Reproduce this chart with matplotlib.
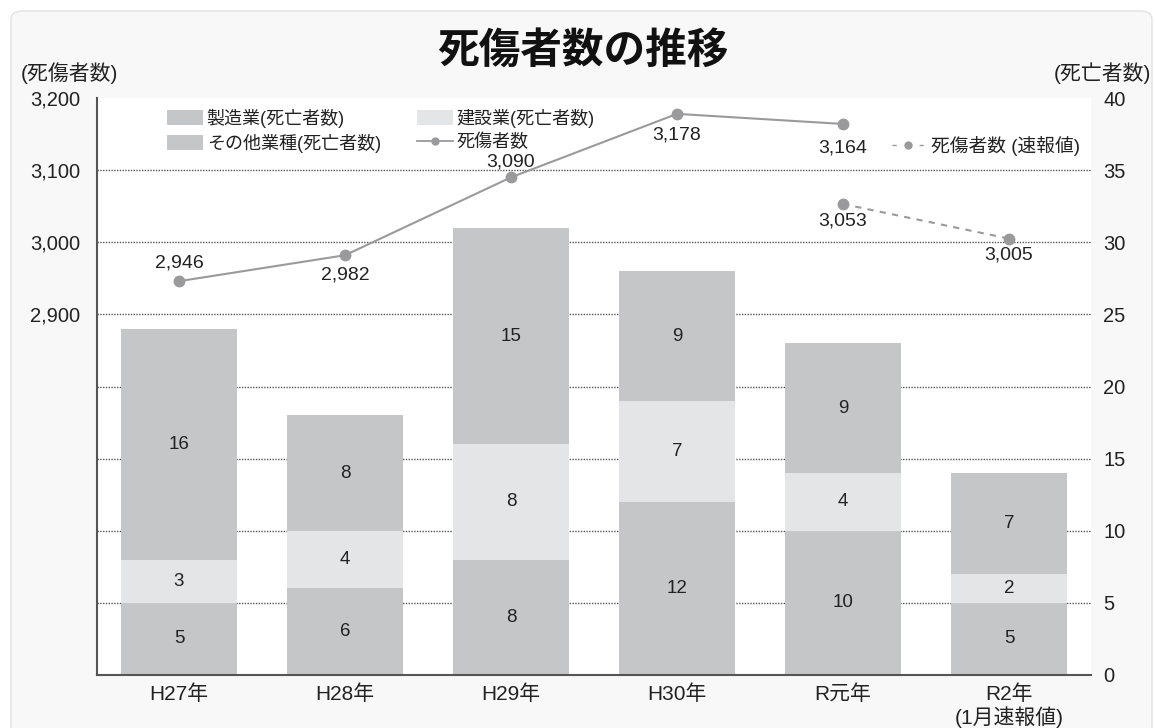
import matplotlib.pyplot as plt
from matplotlib.patches import FancyBboxPatch, Patch
from matplotlib.lines import Line2D

plt.rcParams['font.family'] = ['Liberation Sans', 'Noto Sans CJK JP']

# data
years = ["H27年", "H28年", "H29年", "H30年", "R元年", "R2年\n(1月速報値)"]
manufacturing = [5, 6, 8, 12, 10, 5]      # 製造業 (死亡者数)
construction = [3, 4, 8, 7, 4, 2]         # 建設業 (死亡者数)
other = [16, 8, 15, 9, 9, 7]              # その他業種 (死亡者数)
casualties = [2946, 2982, 3090, 3178, 3164]
casualty_pos = [0, 1, 2, 3, 4]
prelim = [3053, 3005]
prelim_pos = [4, 5]

right_ticks = list(range(0, 41, 5))
left_ticks = [2900, 3000, 3100, 3200]

# label placement (pixels, + above / - below)
casualty_offsets = [18, -20, 15, -21, -24]
prelim_offsets = [-17, -16]

BAR_DARK = "#c5c6c8"
BAR_LIGHT = "#e4e5e7"
LINE_COL = "#9a9a9c"
TEXT_COL = "#222222"

W, H = 1155, 728
fig = plt.figure(figsize=(W / 100, H / 100), dpi=100, facecolor="white")

# rounded light-gray panel behind everything (open at the bottom)
panel = FancyBboxPatch((11 / W, -30 / H), 1141 / W, (728 - 11 + 30) / H,
                       boxstyle="round,pad=0,rounding_size=0.011",
                       transform=fig.transFigure, facecolor="#f8f8f8",
                       edgecolor="#e2e2e2", linewidth=1.0, zorder=-10)
fig.patches.append(panel)

ax = fig.add_axes([97 / W, 1 - 675 / H, 994 / W, 577 / H])
ax.set_facecolor("white")
ax2 = ax.twinx()
# bars on ax with ticks right, line on ax2 with ticks left
ax.yaxis.tick_right()
ax2.yaxis.tick_left()

x = list(range(len(years)))
width = 0.7
bottom2 = [m + c for m, c in zip(manufacturing, construction)]
ax.bar(x, manufacturing, width, color=BAR_DARK, zorder=2)
ax.bar(x, construction, width, bottom=manufacturing, color=BAR_LIGHT, zorder=2)
ax.bar(x, other, width, bottom=bottom2, color=BAR_DARK, zorder=2)

for i in x:
    segs = [(0, manufacturing[i]), (manufacturing[i], construction[i]),
            (bottom2[i], other[i])]
    for b, v in segs:
        ax.text(i, b + v / 2, str(v), ha="center", va="center",
                fontsize=13.5, color=TEXT_COL, zorder=3)

ax.set_xlim(-0.494, len(years) - 0.506)
ax.set_ylim(0, 40)
ax.set_yticks(right_ticks)
ax.tick_params(axis="y", length=0, pad=9, labelsize=14.5, labelcolor=TEXT_COL)
ax.set_xticks(x)
ax.set_xticklabels(years, fontsize=15, color=TEXT_COL, linespacing=1.1, va="top")
ax.tick_params(axis="x", length=0, pad=7)

# dotted grid for the inner ticks only (none on the top edge)
for t in right_ticks[1:-1]:
    ax.axhline(t, linestyle=(0, (1, 1)), color="#555555", linewidth=1.0, zorder=1)

for a in (ax, ax2):
    a.spines["top"].set_visible(False)
    a.spines["right"].set_visible(False)
ax2.spines["left"].set_visible(False)
ax2.spines["bottom"].set_visible(False)
ax.spines["left"].set_color("#555555")
ax.spines["left"].set_linewidth(1.5)
ax.spines["bottom"].set_color("#555555")
ax.spines["bottom"].set_linewidth(1.5)

# casualty line on the left scale
ax2.set_ylim(2400, 3200)
ax2.set_yticks(left_ticks)
ax2.set_yticklabels([f"{v:,}" for v in left_ticks])
ax2.tick_params(axis="y", length=0, pad=12, labelsize=14.5, labelcolor=TEXT_COL)

ax2.plot(casualty_pos, casualties, color=LINE_COL, linewidth=1.5,
         marker="o", markersize=7.5, markerfacecolor=LINE_COL,
         markeredgecolor=LINE_COL, zorder=4)
ax2.plot(prelim_pos, prelim, color=LINE_COL, linewidth=1.5,
         linestyle=(0, (3, 3)), marker="o", markersize=7.5,
         markerfacecolor=LINE_COL, markeredgecolor=LINE_COL, zorder=4)

for pos, val, off in zip(casualty_pos + prelim_pos, casualties + prelim,
                         casualty_offsets + prelim_offsets):
    ax2.annotate(f"{val:,}", (pos, val), xytext=(0, off * 0.72),
                 textcoords="offset points", ha="center", va="center",
                 fontsize=14, color=TEXT_COL)

# legends
h_manu = Patch(facecolor=BAR_DARK, edgecolor="none")
h_cons = Patch(facecolor=BAR_LIGHT, edgecolor="none")
h_other = Patch(facecolor=BAR_DARK, edgecolor="none")
h_line = Line2D([], [], color=LINE_COL, linewidth=1.3, marker="o",
                markersize=5, markerfacecolor=LINE_COL, markeredgecolor=LINE_COL)
h_pre = Line2D([], [], color=LINE_COL, linewidth=1.0, linestyle=(0, (3, 16.5)),
               marker="o", markersize=5, markerfacecolor=LINE_COL,
               markeredgecolor=LINE_COL)

leg1 = ax2.legend([h_manu, h_other, h_cons, h_line],
                  ["製造業(死亡者数)", "その他業種(死亡者数)",
                   "建設業(死亡者数)", "死傷者数"],
                  ncol=2, loc="upper left", bbox_to_anchor=(0.0704, 0.982),
                  frameon=False, fontsize=13, borderpad=0, borderaxespad=0,
                  handlelength=2.0, handleheight=0.85, handletextpad=0.2,
                  labelspacing=0.35, columnspacing=2.0, labelcolor=TEXT_COL)
ax2.add_artist(leg1)
ax2.legend([h_pre], ["死傷者数 (速報値)"], loc="upper left",
           bbox_to_anchor=((892 - 97) / 994, (675 - 136) / 577),
           frameon=False, fontsize=13.5, borderpad=0, borderaxespad=0,
           handlelength=1.72, handletextpad=0.35, labelcolor=TEXT_COL)

# title and axis captions
fig.text(583 / W, 1 - 52 / H, "死傷者数の推移", ha="center", va="center",
         fontsize=30, fontweight="bold", color="#111111")
fig.text(21 / W, 1 - 73 / H, "(死傷者数)", ha="left", va="center",
         fontsize=15, color=TEXT_COL)
fig.text(1151 / W, 1 - 73 / H, "(死亡者数)", ha="right", va="center",
         fontsize=15, color=TEXT_COL)

fig.savefig("out.png", dpi=100, facecolor=fig.get_facecolor())
